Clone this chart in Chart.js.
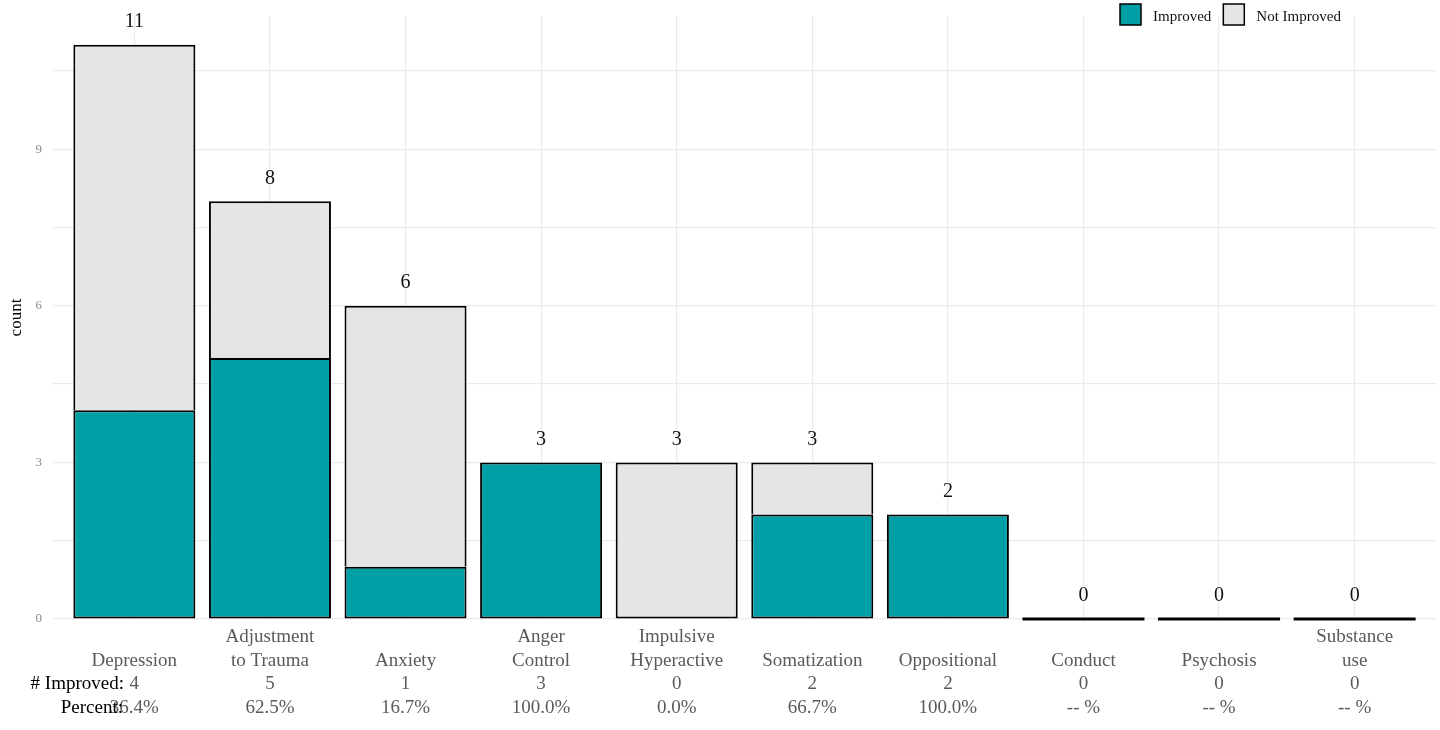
<!DOCTYPE html>
<html>
<head>
<meta charset="utf-8">
<script src="https://cdn.jsdelivr.net/npm/chart.js@4"></script>
<style>
  html, body { margin: 0; padding: 0; background: #fff; }
  #wrap { width: 1440px; height: 730px; }
</style>
</head>
<body>
<div id="wrap"><canvas id="chart" width="1440" height="730"></canvas></div>
<script>
// Data
const categories = [
    ['Depression'], ['Adjustment', 'to Trauma'], ['Anxiety'], ['Anger', 'Control'],
    ['Impulsive', 'Hyperactive'], ['Somatization'], ['Oppositional'], ['Conduct'],
    ['Psychosis'], ['Substance', 'use']
];
const improved = [4, 5, 1, 3, 0, 2, 2, 0, 0, 0];
const notImproved = [7, 3, 5, 0, 3, 1, 0, 0, 0, 0];
const percentLabels = ['36.4%', '62.5%', '16.7%', '100.0%', '0.0%', '66.7%', '100.0%', '-- %', '-- %', '-- %'];
const yTickValues = [0, 1.5, 3, 4.5, 6, 7.5, 9, 10.5];
const yMajorTicks = [0, 3, 6, 9];

const totals = improved.map((v, i) => v + notImproved[i]);

const FONT = '"Liberation Serif", "DejaVu Serif", serif';
const X_PAD = 6;
const X_LINE = 1.25;
const X_SIZE = 19;

// Extra text: totals above bars, zero bars, row captions, legend
const extrasPlugin = {
    id: 'extras',
    afterDatasetsDraw(chart) {
        const ctx = chart.ctx;
        const xs = chart.scales.x;
        const ys = chart.scales.y;
        const unit = xs.getPixelForValue(1) - xs.getPixelForValue(0);

        ctx.save();
        // zero-height bars drawn as a thick line, as in the original
        ctx.strokeStyle = '#000';
        ctx.lineWidth = 3;
        totals.forEach((t, i) => {
            if (t === 0) {
                const cx = xs.getPixelForValue(i);
                const y0 = ys.getPixelForValue(0);
                ctx.beginPath();
                ctx.moveTo(cx - unit * 0.45, y0);
                ctx.lineTo(cx + unit * 0.45, y0);
                ctx.stroke();
            }
        });

        // totals
        ctx.fillStyle = '#111';
        ctx.font = '20px ' + FONT;
        ctx.textAlign = 'center';
        ctx.textBaseline = 'middle';
        totals.forEach((t, i) => {
            ctx.fillText(String(t), xs.getPixelForValue(i), ys.getPixelForValue(t) - 23);
        });
        ctx.restore();
    },
    afterDraw(chart) {
        const ctx = chart.ctx;
        const xs = chart.scales.x;
        const lh = X_SIZE * X_LINE;
        ctx.save();
        // row captions left of the tick labels
        ctx.fillStyle = '#000';
        ctx.font = X_SIZE + 'px ' + FONT;
        ctx.textAlign = 'right';
        ctx.textBaseline = 'middle';
        ctx.fillText('# Improved:', 124, xs.top + X_PAD + lh * 2.5);
        ctx.fillText('Percent:', 123, xs.top + X_PAD + lh * 3.5);

        // legend
        ctx.font = '15px ' + FONT;
        ctx.textAlign = 'left';
        let x = 1120;
        chart.data.datasets.forEach(ds => {
            ctx.fillStyle = ds.backgroundColor;
            ctx.fillRect(x, 4, 21, 21);
            ctx.strokeStyle = '#000';
            ctx.lineWidth = 1.5;
            ctx.strokeRect(x, 4, 21, 21);
            ctx.fillStyle = '#111';
            ctx.fillText(ds.label, x + 33, 17);
            x += 33 + ctx.measureText(ds.label).width + 12;
        });
        ctx.restore();
    }
};

const barData = (vals) => vals.map((v, i) => ({ x: i, y: v }));

new Chart(document.getElementById('chart'), {
    type: 'bar',
    data: {
        datasets: [
            {
                label: 'Improved',
                data: barData(improved),
                backgroundColor: '#009FA6',
                borderColor: '#000',
                borderWidth: 2,
                borderSkipped: false
            },
            {
                label: 'Not Improved',
                data: barData(notImproved),
                backgroundColor: '#E5E5E5',
                borderColor: '#000',
                borderWidth: 2,
                // the segment below already draws the shared edge
                borderSkipped: ctx => improved[ctx.dataIndex] > 0 ? 'start' : false
            }
        ]
    },
    options: {
        responsive: false,
        animation: false,
        events: [],
        categoryPercentage: 1,
        barPercentage: 0.9,
        layout: { padding: { top: 16, right: 4, left: 0, bottom: 0 } },
        plugins: {
            legend: { display: false },
            tooltip: { enabled: false }
        },
        scales: {
            x: {
                type: 'linear',
                stacked: true,
                offset: false,
                min: -0.6,
                max: 9.6,
                afterBuildTicks: scale => {
                    scale.ticks = categories.map((_, i) => ({ value: i }));
                },
                afterFit: scale => { scale.height = 111; },
                border: { display: false },
                grid: { color: '#EBEBEB', lineWidth: 1.2, drawTicks: false, offset: false },
                ticks: {
                    autoSkip: false,
                    maxRotation: 0,
                    padding: X_PAD,
                    color: '#5a5a5a',
                    font: { family: FONT, size: X_SIZE, lineHeight: X_LINE },
                    callback: (value) => {
                        const name = categories[value];
                        const lines = name.length === 1 ? ['', name[0]] : name.slice();
                        return lines.concat([String(improved[value]), percentLabels[value]]);
                    }
                }
            },
            y: {
                stacked: true,
                min: 0,
                max: 11.55,
                afterBuildTicks: scale => {
                    scale.ticks = yTickValues.map(v => ({ value: v }));
                },
                afterFit: scale => {
                    scale.width = 53;
                    scale.paddingTop = 0;
                    scale.paddingBottom = 0;
                },
                border: { display: false },
                grid: { color: '#EBEBEB', lineWidth: 1.2, drawTicks: false },
                title: {
                    display: true,
                    text: 'count',
                    color: '#000',
                    font: { family: FONT, size: 17 },
                    padding: { top: 6, bottom: 0 }
                },
                ticks: {
                    padding: 11,
                    color: '#8a8a8a',
                    font: { family: FONT, size: 13 },
                    callback: (value) => yMajorTicks.includes(value) ? String(value) : ''
                }
            }
        }
    },
    plugins: [extrasPlugin]
});
</script>
</body>
</html>
